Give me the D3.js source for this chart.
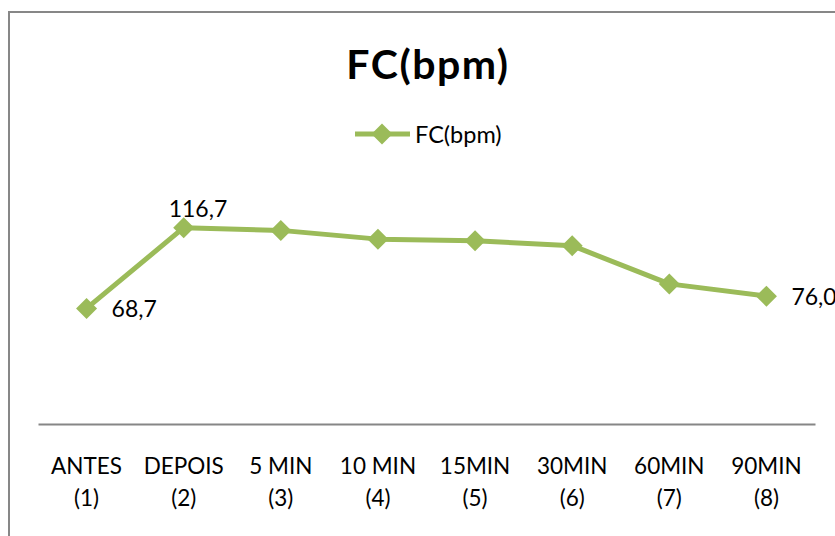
<!DOCTYPE html>
<html>
<head>
<meta charset="utf-8">
<script src="https://cdn.jsdelivr.net/npm/d3@7"></script>
<style>
  body { margin: 0; background: #fff; }
  text { font-family: Lato, "Open Sans", sans-serif; fill: #000; }
</style>
</head>
<body>
<div id="container"></div>
<script>
let w = 835;
let h = 536;

let categories = ['ANTES', 'DEPOIS', '5 MIN', '10 MIN', '15MIN', '30MIN', '60MIN', '90MIN'];
let subLabels = ['(1)', '(2)', '(3)', '(4)', '(5)', '(6)', '(7)', '(8)'];
let fcValues = [68.7, 116.7, 115.1, 109.9, 108.9, 106.0, 83.3, 76.0];
let shownLabels = ['68,7', '116,7', null, null, null, null, null, '76,0'];
let seriesName = 'FC(bpm)';

let green = '#9bbb59';

let viz = d3.select('#container')
  .append('svg')
    .attr('width', w)
    .attr('height', h)
  ;

// chart frame (only top and left show in the picture)
viz.append('rect')
  .attr('x', 9).attr('y', 12)
  .attr('width', w + 20).attr('height', h + 20)
  .attr('fill', 'none')
  .attr('stroke', '#878787')
  .attr('stroke-width', 2);

// title
viz.append('text')
  .attr('x', 428).attr('y', 79)
  .attr('text-anchor', 'middle')
  .style('font-size', '41px')
  .style('font-weight', 'bold')
  .style('letter-spacing', '1.5px')
  .text(seriesName);

let xScale = d3.scaleBand().domain(categories).range([38, 815]);
let yScale = d3.scaleLinear().domain([0, 140]).range([424, 188.5]);

function cx(d, i){
  return xScale(categories[i]) + xScale.bandwidth() / 2;
}

// axis line + labels
let xAxis = d3.axisBottom(xScale).tickSize(0).tickPadding(0);
let xAxisGroup = viz.append('g').attr('class', 'xaxis')
  .attr('transform', 'translate(0, 424)')
  .call(xAxis);
xAxisGroup.select('.domain').attr('stroke', '#868686').attr('stroke-width', 2);
xAxisGroup.selectAll('.tick text').remove();
xAxisGroup.selectAll('.tick').each(function(d, i){
  let t = d3.select(this).append('text')
    .attr('text-anchor', 'middle')
    .style('font-size', '22.5px');
  t.append('tspan').attr('x', 0).attr('y', 50).text(d);
  t.append('tspan').attr('x', 0).attr('y', 82).text(subLabels[i]);
});

// line
let line = d3.line()
  .x(cx)
  .y(function(d){ return yScale(d); });

viz.append('path')
  .datum(fcValues)
  .attr('d', line)
  .attr('fill', 'none')
  .attr('stroke', green)
  .attr('stroke-width', 5)
  .attr('stroke-linejoin', 'round');

let diamond = 'M0,-10.5L10.5,0L0,10.5L-10.5,0Z';

viz.selectAll('.pt')
  .data(fcValues)
  .enter()
  .append('path')
    .attr('class', 'pt')
    .attr('d', diamond)
    .attr('fill', green)
    .attr('transform', function(d, i){
      return 'translate(' + cx(d, i) + ',' + yScale(d) + ')';
    });

// data labels
viz.selectAll('.lbl')
  .data(fcValues)
  .enter()
  .filter(function(d, i){ return shownLabels[i] != null; })
  .append('text')
    .attr('class', 'lbl')
    .style('font-size', '23px')
    .attr('x', function(d){
      let i = fcValues.indexOf(d);
      if(i == 1){ return cx(d, i) - 15; }
      return cx(d, i) + 25;
    })
    .attr('y', function(d){
      let i = fcValues.indexOf(d);
      if(i == 1){ return yScale(d) - 11; }
      return yScale(d) + 8.5;
    })
    .text(function(d){ return shownLabels[fcValues.indexOf(d)]; });

// legend
let legend = viz.append('g').attr('transform', 'translate(355, 134)');
legend.append('line')
  .attr('x1', 0).attr('x2', 55)
  .attr('y1', 0).attr('y2', 0)
  .attr('stroke', green)
  .attr('stroke-width', 5);
legend.append('path')
  .attr('d', diamond)
  .attr('transform', 'translate(27, 0)')
  .attr('fill', green);
legend.append('text')
  .attr('x', 60).attr('y', 8.5)
  .style('font-size', '23.5px')
  .text(seriesName);
</script>
</body>
</html>
